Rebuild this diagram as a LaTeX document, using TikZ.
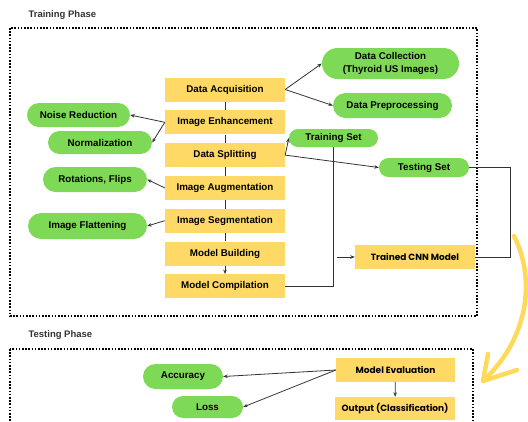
\documentclass[tikz,border=0pt]{standalone}
\usepackage{fontspec}
\setmainfont{Liberation Sans}
\newfontfamily\handfont{Poppins}
\usetikzlibrary{arrows.meta,shapes.misc}
\definecolor{boxyellow}{HTML}{FFD966}
\definecolor{pillgreen}{HTML}{7ED957}
\definecolor{linegray}{HTML}{333333}
\definecolor{brushyellow}{HTML}{FFD95A}
\begin{document}
\begin{tikzpicture}[x=1pt,y=-1pt,
      box/.style={fill=boxyellow,minimum width=120pt,minimum height=24pt,inner sep=0pt,font=\bfseries\fontsize{9.8}{11}\selectfont},
      handbox/.style={box,font=\handfont\bfseries\fontsize{9}{10}\selectfont},
      pill/.style={rounded rectangle,fill=pillgreen,minimum height=24pt,inner sep=0pt,align=center,font=\bfseries\fontsize{9.8}{12.5}\selectfont},
      link/.style={draw=linegray,line width=.8pt},
      arr/.style={link,-{Stealth[length=4.5pt,width=3.5pt]}},
      frame/.style={line width=1.8pt,dash pattern=on 1.6pt off 1.6pt},
      phase/.style={anchor=west,text=linegray,font=\bfseries\fontsize{9.5}{11}\selectfont},
    ]
    \useasboundingbox (0,0) rectangle (528,421);
    \draw[frame] (10,28) rectangle (477,316);
    \draw[frame] (10,349) rectangle (473,440);
    \node[phase] (trainphase) at (25,15.5) {Training Phase};
    \node[phase] (testphase) at (25,335) {Testing Phase};
    \foreach \n/\t in {1/Data Acquisition,2/Image Enhancement,3/Data Splitting,4/Image Augmentation,5/Image Segmentation,6/Model Building,7/Model Compilation}{
      \node[box] (c\n) at (225,{89.5+32.8*(\n-1)}) {\t};
    };
    \foreach \a/\b in {1/2,2/3,3/4,4/5,5/6}{
      \draw[link] (c\a) -- (c\b);
    };
    \draw[arr] (c6) -- (c7);
    \node[pill,minimum width=137pt,minimum height=31pt] (collect) at (390.5,63.5) {Data Collection\\(Thyroid US Images)};
    \node[pill,minimum width=119pt,minimum height=25pt] (prep) at (392.5,105.5) {Data Preprocessing};
    \node[pill,minimum width=103pt] (noise) at (78.5,115) {Noise Reduction};
    \node[pill,minimum width=104pt,minimum height=23pt] (norm) at (100,142.5) {Normalization};
    \node[pill,minimum width=89pt,minimum height=18pt] (train) at (333.5,138) {Training Set};
    \node[pill,minimum width=90pt,minimum height=19pt] (test) at (424,167.5) {Testing Set};
    \node[pill,minimum width=104pt,minimum height=25pt] (rotate) at (95,179.5) {Rotations, Flips};
    \node[pill,minimum width=119pt,minimum height=26pt] (flat) at (87.5,226) {Image Flattening};
    \node[handbox] (cnn) at (415,257) {Trained CNN Model};
    \draw[arr] (c1.east) -- (collect.west);
    \draw[arr] (c1.east) -- (prep.west);
    \draw[arr] (c2.west) -- (noise.east);
    \draw[arr] (c2.west) -- (norm.east);
    \draw[arr] (c3.east) -- (train.west);
    \draw[arr] (c3.east) -- (test.west);
    \draw[arr] (c4.west) -- (rotate.east);
    \draw[arr] (c5.west) -- (flat.east);
    \draw[link] (train.south) |- (c7.east);
    \draw[arr] ([xshift=3pt]train.south |- cnn.west) -- (cnn.west);
    \draw[link] (test.east) -| ([xshift=35pt]cnn.east) -- (cnn.east);
    \node[handbox,minimum width=119pt] (eval) at (395.5,370) {Model Evaluation};
    \node[handbox,minimum height=23pt] (out) at (395,408.5) {Output (Classification)};
    \node[pill,minimum width=80pt,minimum height=25pt] (acc) at (183,376.5) {Accuracy};
    \node[pill,minimum width=71pt,minimum height=22pt] (loss) at (207.5,407) {Loss};
    \draw[arr] (eval.west) -- (acc.east);
    \draw[arr] (eval.west) -- (loss.east);
    \draw[arr] (eval) -- (out);
    \draw[brushyellow,line width=4.5pt,line cap=round] (514,236) .. controls (534,275) and (532,335) .. (483,381);
    \draw[brushyellow,line width=4.5pt,line cap=round,line join=round] (488,354) -- (483,381) -- (517,370);
  \end{tikzpicture}
\end{document}
